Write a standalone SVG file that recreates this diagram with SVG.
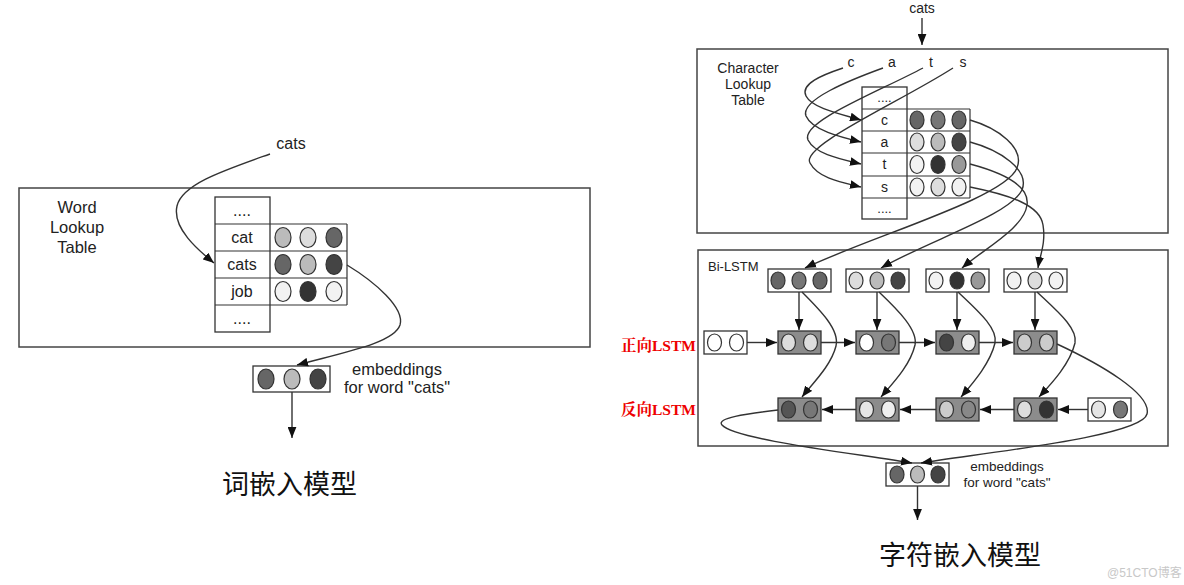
<svg xmlns="http://www.w3.org/2000/svg" width="1184" height="585" viewBox="0 0 1184 585">
<defs>
<marker id="ah" viewBox="0 0 10 8" refX="10" refY="4" markerWidth="11" markerHeight="9" markerUnits="userSpaceOnUse" orient="auto">
<path d="M0,0 L10,4 L0,8 Z" fill="#111"/>
</marker>
<style>
.box{fill:#fff;stroke:#444;stroke-width:1.5}
.cell{fill:#fff;stroke:#333;stroke-width:1.3}
.lstm{fill:#8c8c8c;stroke:#333;stroke-width:1.3}
.c{stroke:#333;stroke-width:1.2}
.ln{fill:none;stroke:#333;stroke-width:1.4;marker-end:url(#ah)}
.t{font-family:"Liberation Sans",Arial,sans-serif;fill:#222;text-anchor:middle}
.big{font-family:"Noto Sans CJK SC",sans-serif;font-size:27px;fill:#111}
.red{font-family:"Liberation Serif","Noto Serif CJK SC","Noto Sans CJK SC",serif;font-size:15.5px;font-weight:bold;fill:#e00}
</style>
</defs>
<rect width="1184" height="585" fill="#fff"/>

<!-- LEFT: word embedding -->
<g id="word-lookup-table">
<rect class="box" x="19" y="188" width="571" height="159"/>
<text class="t" font-size="16.5" x="77" y="213">Word</text>
<text class="t" font-size="16.5" x="77" y="233">Lookup</text>
<text class="t" font-size="16.5" x="77" y="253">Table</text>
<rect class="cell" x="215" y="197" width="55" height="135"/>
<line class="c" x1="215" y1="224" x2="347" y2="224"/>
<line class="c" x1="215" y1="251" x2="347" y2="251"/>
<line class="c" x1="215" y1="278" x2="347" y2="278"/>
<line class="c" x1="215" y1="305" x2="347" y2="305"/>
<line class="c" x1="347" y1="224" x2="347" y2="305"/>
<text class="t" font-size="16" x="242" y="216">....</text>
<text class="t" font-size="16" x="242" y="243">cat</text>
<text class="t" font-size="16" x="242" y="270">cats</text>
<text class="t" font-size="16" x="242" y="297">job</text>
<text class="t" font-size="16" x="242" y="324">....</text>
<ellipse class="c" cx="283" cy="237.5" rx="8" ry="10" fill="#bbb"/>
<ellipse class="c" cx="308" cy="237.5" rx="8" ry="10" fill="#ddd"/>
<ellipse class="c" cx="334" cy="237.5" rx="8" ry="10" fill="#666"/>
<ellipse class="c" cx="283" cy="264.5" rx="8" ry="10" fill="#666"/>
<ellipse class="c" cx="308" cy="264.5" rx="8" ry="10" fill="#bbb"/>
<ellipse class="c" cx="334" cy="264.5" rx="8" ry="10" fill="#444"/>
<ellipse class="c" cx="283" cy="291.5" rx="8" ry="10" fill="#f2f2f2"/>
<ellipse class="c" cx="308" cy="291.5" rx="8" ry="10" fill="#333"/>
<ellipse class="c" cx="334" cy="291.5" rx="8" ry="10" fill="#f2f2f2"/>
</g>
<g id="word-input">
<text class="t" font-size="16" x="291" y="149">cats</text>
</g>
<g id="word-embedding">
<rect class="cell" x="253" y="366" width="77" height="26"/>
<ellipse class="c" cx="266" cy="379" rx="8" ry="10" fill="#666"/>
<ellipse class="c" cx="292" cy="379" rx="8" ry="10" fill="#bbb"/>
<ellipse class="c" cx="318" cy="379" rx="8" ry="10" fill="#444"/>
<text class="t" font-size="16.5" x="397" y="375">embeddings</text>
<text class="t" font-size="16.5" x="397" y="393">for word "cats"</text>
</g>
<g id="word-title">
<text class="big" x="222" y="494">词嵌入模型</text>
</g>

<!-- RIGHT: character embedding -->
<g id="char-lookup-table">
<rect class="box" x="697" y="49" width="471" height="184"/>
<text class="t" font-size="14" x="748" y="73">Character</text>
<text class="t" font-size="14" x="748" y="89">Lookup</text>
<text class="t" font-size="14" x="748" y="105">Table</text>
<text class="t" font-size="14" x="851" y="67">c</text>
<text class="t" font-size="14" x="892" y="67">a</text>
<text class="t" font-size="14" x="931" y="67">t</text>
<text class="t" font-size="14" x="963" y="67">s</text>
<rect class="cell" x="862" y="87" width="45" height="132"/>
<line class="c" x1="862" y1="109" x2="970" y2="109"/>
<line class="c" x1="862" y1="131" x2="970" y2="131"/>
<line class="c" x1="862" y1="153" x2="970" y2="153"/>
<line class="c" x1="862" y1="176" x2="970" y2="176"/>
<line class="c" x1="862" y1="198" x2="970" y2="198"/>
<line class="c" x1="970" y1="109" x2="970" y2="198"/>
<text class="t" font-size="13" x="884.5" y="102">....</text>
<text class="t" font-size="14" x="884.5" y="125">c</text>
<text class="t" font-size="14" x="884.5" y="147">a</text>
<text class="t" font-size="14" x="884.5" y="169">t</text>
<text class="t" font-size="14" x="884.5" y="192">s</text>
<text class="t" font-size="13" x="884.5" y="213">....</text>
<ellipse class="c" cx="917" cy="120" rx="7" ry="9" fill="#666"/>
<ellipse class="c" cx="938" cy="120" rx="7" ry="9" fill="#777"/>
<ellipse class="c" cx="959" cy="120" rx="7" ry="9" fill="#666"/>
<ellipse class="c" cx="917" cy="142" rx="7" ry="9" fill="#ddd"/>
<ellipse class="c" cx="938" cy="142" rx="7" ry="9" fill="#bbb"/>
<ellipse class="c" cx="959" cy="142" rx="7" ry="9" fill="#444"/>
<ellipse class="c" cx="917" cy="164.5" rx="7" ry="9" fill="#f2f2f2"/>
<ellipse class="c" cx="938" cy="164.5" rx="7" ry="9" fill="#333"/>
<ellipse class="c" cx="959" cy="164.5" rx="7" ry="9" fill="#999"/>
<ellipse class="c" cx="917" cy="187" rx="7" ry="9" fill="#f2f2f2"/>
<ellipse class="c" cx="938" cy="187" rx="7" ry="9" fill="#ddd"/>
<ellipse class="c" cx="959" cy="187" rx="7" ry="9" fill="#f2f2f2"/>
</g>
<g id="char-input">
<text class="t" font-size="14" x="922" y="13">cats</text>
</g>

<g id="bilstm">
<rect class="box" x="698" y="250" width="470" height="196"/>
<text font-family="Liberation Sans,Arial,sans-serif" font-size="13" fill="#222" x="708" y="271">Bi-LSTM</text>
</g>
<g id="char-vectors">
<rect class="cell" x="768" y="269" width="63" height="23"/>
<ellipse class="c" cx="778" cy="280.5" rx="7" ry="8.5" fill="#666"/>
<ellipse class="c" cx="799" cy="280.5" rx="7" ry="8.5" fill="#777"/>
<ellipse class="c" cx="820" cy="280.5" rx="7" ry="8.5" fill="#666"/>
<rect class="cell" x="846" y="269" width="63" height="23"/>
<ellipse class="c" cx="856" cy="280.5" rx="7" ry="8.5" fill="#ddd"/>
<ellipse class="c" cx="877" cy="280.5" rx="7" ry="8.5" fill="#bbb"/>
<ellipse class="c" cx="898" cy="280.5" rx="7" ry="8.5" fill="#444"/>
<rect class="cell" x="926" y="269" width="63" height="23"/>
<ellipse class="c" cx="936" cy="280.5" rx="7" ry="8.5" fill="#f2f2f2"/>
<ellipse class="c" cx="957" cy="280.5" rx="7" ry="8.5" fill="#333"/>
<ellipse class="c" cx="978" cy="280.5" rx="7" ry="8.5" fill="#999"/>
<rect class="cell" x="1004" y="269" width="63" height="23"/>
<ellipse class="c" cx="1014" cy="280.5" rx="7" ry="8.5" fill="#f2f2f2"/>
<ellipse class="c" cx="1035" cy="280.5" rx="7" ry="8.5" fill="#ddd"/>
<ellipse class="c" cx="1056" cy="280.5" rx="7" ry="8.5" fill="#f2f2f2"/>
</g>
<g id="forward-lstm">
<text class="red" x="621" y="351">正向LSTM</text>
<rect class="cell" x="704" y="331" width="43" height="23"/>
<ellipse class="c" cx="714.5" cy="342.5" rx="7" ry="8.5" fill="#fff"/>
<ellipse class="c" cx="736.5" cy="342.5" rx="7" ry="8.5" fill="#fff"/>
<rect class="lstm" x="778" y="331" width="43" height="23"/>
<ellipse class="c" cx="788.5" cy="342.5" rx="7" ry="8.5" fill="#ddd"/>
<ellipse class="c" cx="810.5" cy="342.5" rx="7" ry="8.5" fill="#ddd"/>
<rect class="lstm" x="856" y="331" width="43" height="23"/>
<ellipse class="c" cx="866.5" cy="342.5" rx="7" ry="8.5" fill="#fff"/>
<ellipse class="c" cx="888.5" cy="342.5" rx="7" ry="8.5" fill="#777"/>
<rect class="lstm" x="936" y="331" width="43" height="23"/>
<ellipse class="c" cx="946.5" cy="342.5" rx="7" ry="8.5" fill="#444"/>
<ellipse class="c" cx="968.5" cy="342.5" rx="7" ry="8.5" fill="#eee"/>
<rect class="lstm" x="1014" y="331" width="43" height="23"/>
<ellipse class="c" cx="1024.5" cy="342.5" rx="7" ry="8.5" fill="#ccc"/>
<ellipse class="c" cx="1046.5" cy="342.5" rx="7" ry="8.5" fill="#ccc"/>
</g>
<g id="backward-lstm">
<text class="red" x="621" y="415">反向LSTM</text>
<rect class="lstm" x="778" y="398" width="43" height="23"/>
<ellipse class="c" cx="788.5" cy="409.5" rx="7" ry="8.5" fill="#555"/>
<ellipse class="c" cx="810.5" cy="409.5" rx="7" ry="8.5" fill="#777"/>
<rect class="lstm" x="856" y="398" width="43" height="23"/>
<ellipse class="c" cx="866.5" cy="409.5" rx="7" ry="8.5" fill="#e5e5e5"/>
<ellipse class="c" cx="888.5" cy="409.5" rx="7" ry="8.5" fill="#eee"/>
<rect class="lstm" x="936" y="398" width="43" height="23"/>
<ellipse class="c" cx="946.5" cy="409.5" rx="7" ry="8.5" fill="#ccc"/>
<ellipse class="c" cx="968.5" cy="409.5" rx="7" ry="8.5" fill="#888"/>
<rect class="lstm" x="1014" y="398" width="43" height="23"/>
<ellipse class="c" cx="1024.5" cy="409.5" rx="7" ry="8.5" fill="#ddd"/>
<ellipse class="c" cx="1046.5" cy="409.5" rx="7" ry="8.5" fill="#333"/>
<rect class="cell" x="1088" y="398" width="43" height="23"/>
<ellipse class="c" cx="1098.5" cy="409.5" rx="7" ry="8.5" fill="#e5e5e5"/>
<ellipse class="c" cx="1120.5" cy="409.5" rx="7" ry="8.5" fill="#777"/>
</g>
<g id="char-embedding">
<rect class="cell" x="886" y="463" width="63" height="23"/>
<ellipse class="c" cx="897" cy="474.5" rx="7" ry="8.5" fill="#666"/>
<ellipse class="c" cx="917.5" cy="474.5" rx="7" ry="8.5" fill="#bbb"/>
<ellipse class="c" cx="938" cy="474.5" rx="7" ry="8.5" fill="#444"/>
<text class="t" font-size="13.5" x="1007" y="471">embeddings</text>
<text class="t" font-size="13.5" x="1007" y="487">for word "cats"</text>
</g>
<g id="char-title">
<text class="big" x="879" y="565">字符嵌入模型</text>
<text font-family="Liberation Sans,'Noto Sans CJK SC',sans-serif" font-size="12" fill="#c8c8c8" x="1107" y="577">@51CTO博客</text>
</g>

<g id="connectors">
<!-- left -->
<path class="ln" d="M270,154 C225,170 182,184 177,206 C172,228 198,250 214,263"/>
<path class="ln" d="M347,265 C375,282 405,308 400,325 C394,343 345,352 297,365"/>
<line class="ln" x1="292" y1="392" x2="292" y2="438"/>
<!-- right top -->
<line class="ln" x1="922" y1="18" x2="922" y2="45"/>
<path class="ln" d="M843,68 C822,75 800,84 806,96 C812,108 840,114 861,120"/>
<path class="ln" d="M883,68 C850,80 800,100 806,116 C812,130 840,137 861,142"/>
<path class="ln" d="M923,68 C878,92 800,122 808,140 C815,154 840,159 861,164"/>
<path class="ln" d="M953,68 C900,102 800,146 810,163 C818,178 840,182 861,187"/>
<path class="ln" d="M970,120 C998,128 1025,148 1017,168 C1005,198 875,235 805,268"/>
<path class="ln" d="M970,142 C1000,150 1030,170 1022,190 C1010,215 930,240 881,268"/>
<path class="ln" d="M970,164 C1000,172 1030,185 1027,205 C1024,228 985,248 962,268"/>
<path class="ln" d="M970,187 C1010,195 1040,205 1043,225 C1046,243 1040,255 1038,268"/>
<!-- bi-lstm vertical -->
<line class="ln" x1="799" y1="292" x2="799" y2="330"/>
<line class="ln" x1="877" y1="292" x2="877" y2="330"/>
<line class="ln" x1="957" y1="292" x2="957" y2="330"/>
<line class="ln" x1="1035" y1="292" x2="1035" y2="330"/>
<!-- forward horizontal -->
<line class="ln" x1="747" y1="342.5" x2="777" y2="342.5"/>
<line class="ln" x1="821" y1="342.5" x2="855" y2="342.5"/>
<line class="ln" x1="899" y1="342.5" x2="935" y2="342.5"/>
<line class="ln" x1="979" y1="342.5" x2="1013" y2="342.5"/>
<!-- backward horizontal -->
<line class="ln" x1="1088" y1="409.5" x2="1058" y2="409.5"/>
<line class="ln" x1="1014" y1="409.5" x2="980" y2="409.5"/>
<line class="ln" x1="936" y1="409.5" x2="900" y2="409.5"/>
<line class="ln" x1="856" y1="409.5" x2="822" y2="409.5"/>
<!-- input to backward curves -->
<path class="ln" d="M802,292 C820,310 840,330 836,346 C831,366 812,384 802,397"/>
<path class="ln" d="M879,292 C898,310 918,330 915,345 C910,366 892,384 881,397"/>
<path class="ln" d="M958,292 C977,310 998,328 995,343 C990,364 972,384 961,397"/>
<path class="ln" d="M1037,292 C1056,310 1078,328 1075,343 C1070,364 1051,384 1039,397"/>
<!-- to output embedding -->
<path class="ln" d="M1057,344 C1100,364 1152,394 1147,414 C1142,436 990,452 921,463"/>
<path class="ln" d="M778,410 C745,414 716,418 722,425 C735,440 860,454 912,463"/>
<line class="ln" x1="917.5" y1="486" x2="917.5" y2="520"/>
</g>
</svg>
